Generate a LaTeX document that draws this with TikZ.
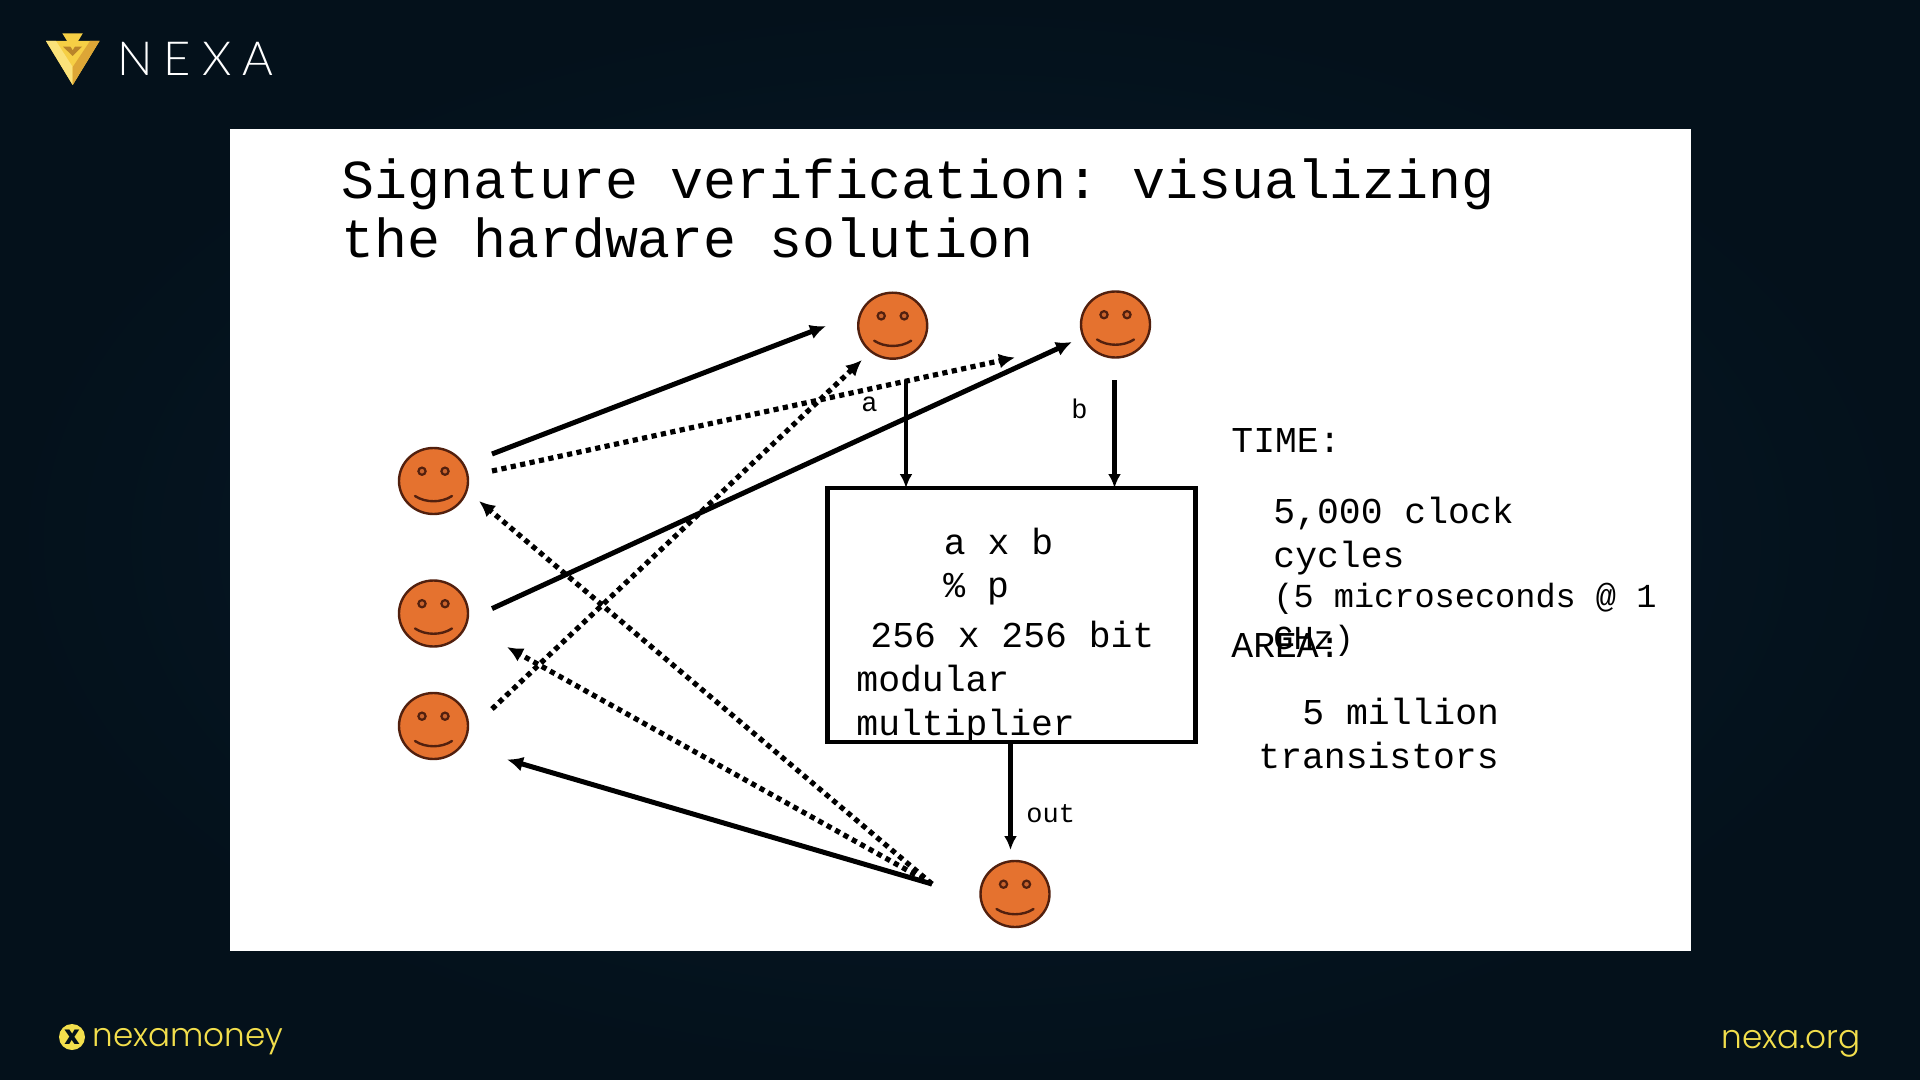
\documentclass[tikz,border=0pt]{standalone}
\usepackage{fontspec}
\usetikzlibrary{arrows.meta,shapes.geometric}
\setmonofont{Liberation Mono}
\newfontfamily\nexafont[LetterSpace=24]{Lato Light}
\newfontfamily\brandfont{Poppins Light}
\newfontfamily\brandbold{Poppins}
\definecolor{bgdark}{HTML}{04111B}
\definecolor{bgmid}{HTML}{071C2C}
\definecolor{faceorange}{HTML}{E5722F}
\definecolor{eyefill}{HTML}{C9642E}
\definecolor{faceline}{HTML}{52200E}
\definecolor{brandyellow}{HTML}{F3DF4C}
\definecolor{goldA}{HTML}{F6CF45}
\definecolor{goldB}{HTML}{DDA636}
\definecolor{goldC}{HTML}{B9842A}
\definecolor{goldD}{HTML}{FBE27A}
\tikzset{
  x=0.5pt,y=-0.5pt,
  solidarrow/.style={line width=2.5pt,-{Latex[length=8pt,width=7.5pt]}},
  dotarrow/.style={line width=2.6pt,dash pattern=on 2.6pt off 2.2pt,-{Latex[length=8pt,width=7.5pt]}},
  thinarrow/.style={line width=2.1pt,-{Latex[length=7pt,width=6.5pt]}},
  facebody/.style={ellipse,draw=faceline,line width=1.2pt,fill=faceorange,minimum width=34.5pt,minimum height=33pt,inner sep=0pt,outer sep=0pt},
  bigtxt/.style={anchor=base west,inner sep=0pt,font=\ttfamily\fontsize{18.2pt}{18.2pt}\selectfont},
  midtxt/.style={anchor=base west,inner sep=0pt,font=\ttfamily\fontsize{16.8pt}{16.8pt}\selectfont},
  smalltxt/.style={anchor=base west,inner sep=0pt,font=\ttfamily\fontsize{13.5pt}{13.5pt}\selectfont},
  titletxt/.style={anchor=base west,inner sep=0pt,font=\ttfamily\fontsize{27.46pt}{27.46pt}\selectfont},
  pics/smiley/.style={code={
    \draw[faceline,line width=1.1pt,fill=eyefill] (-11.5,-9.8) circle (3.6);
    \draw[faceline,line width=1.1pt,fill=eyefill] (11.5,-9.8) circle (3.6);
    \draw[faceline,line width=1.2pt,line cap=round] (-18.5,15) .. controls (-8,22) and (8,22) .. (18.5,15);
  }}
}
\begin{document}
\begin{tikzpicture}
\useasboundingbox (0,0) rectangle (1920,1080);
\fill[bgdark] (0,0) rectangle (1920,1080);
\shade[inner color=bgmid,outer color=bgdark,shading=radial] (0,0) rectangle (1920,1080);
\node[fill=white,minimum width=730.5pt,minimum height=411pt,inner sep=0pt,outer sep=0pt,anchor=north west] (panel) at (230,129) {};

% logo
\fill[goldA] (46,41) -- (99.5,41) -- (72.7,85) -- cycle;
\fill[goldD] (46,41) -- (72.7,85) -- (72.7,67) -- (56,41) -- cycle;
\fill[goldB] (72.7,85) -- (99.5,41) -- (90,41) -- (72.7,67) -- cycle;
\fill[goldC] (63,46.7) -- (82,46.7) -- (72.7,56) -- cycle;
\fill[goldA] (62.3,33.3) -- (82.8,33.3) -- (72.7,50) -- cycle;
\node[anchor=base west,inner sep=0pt,outer sep=0pt,text=white,font=\nexafont\fontsize{23.5pt}{23.5pt}\selectfont] (logotext) at (117,75.5) {NEXA};

% footer
\node[circle,fill=brandyellow,minimum size=13pt,inner sep=0pt,text=bgdark,font=\brandbold\bfseries\fontsize{13pt}{13pt}\selectfont] (xmark) at (72,1037) {x};
\node[anchor=base west,inner sep=0pt,text=brandyellow,font=\brandfont\fontsize{16.3pt}{16.3pt}\selectfont] (brandleft) at (92,1046) {nexamoney};
\node[anchor=base west,inner sep=0pt,text=brandyellow,font=\brandfont\fontsize{16.35pt}{16.35pt}\selectfont] (brandright) at (1721,1048) {nexa.org};

% title
\node[titletxt] (title1) at (341,198.5) {Signature verification: visualizing};
\node[titletxt] (title2) at (341,257.5) {the hardware solution};

% faces
\node[facebody] (f1) at (433.5,481) {}; \pic at (f1) {smiley};
\node[facebody] (f2) at (433.5,613.5) {}; \pic at (f2) {smiley};
\node[facebody] (f3) at (433.5,726) {}; \pic at (f3) {smiley};
\node[facebody] (f4) at (892.7,325.7) {}; \pic at (f4) {smiley};
\node[facebody] (f5) at (1115.5,324.5) {}; \pic at (f5) {smiley};
\node[facebody] (f6) at (1015,894) {}; \pic at (f6) {smiley};

% box
\node[draw=black,line width=2.4pt,outer sep=0pt,minimum width=184pt,minimum height=127pt,inner sep=0pt,anchor=north west] (mult) at (827.7,488) {};
\node[bigtxt] (t1) at (943.5,554) {a x b};
\node[bigtxt] (t2) at (943,597) {\% p};
\node[bigtxt] (t3) at (870,647) {256 x 256 bit};
\node[bigtxt] (t4) at (856,691) {modular};
\node[bigtxt] (t5) at (856,735) {multiplier};

% endpoints
\coordinate (s1) at (492,454); \coordinate (e1) at (826,326);
\coordinate (s2) at (492,471); \coordinate (e2) at (1015,357.5);
\coordinate (s3) at (492,608.6); \coordinate (e3) at (1072,342);
\coordinate (s4) at (492,709); \coordinate (e4) at (862,360);
\coordinate (o) at (932,884);
\coordinate (e5) at (479,501);
\coordinate (e6) at (507,647);
\coordinate (e7) at (507,759.5);
\coordinate (s8) at (906,380); \coordinate (e8) at (906,488);
\coordinate (s9) at (1114.5,380); \coordinate (e9) at (1114.5,488);
\coordinate (s10) at (1010.5,742); \coordinate (e10) at (1010.5,850);

\draw[solidarrow] (s1) -- (e1);
\draw[dotarrow] (s2) -- (e2);
\draw[solidarrow] (s3) -- (e3);
\draw[dotarrow] (s4) -- (e4);
\draw[dotarrow] (o) -- (e5);
\draw[dotarrow] (o) -- (e6);
\draw[solidarrow] (o) -- (e7);
\draw[thinarrow] (s8) -- (e8);
\draw[thinarrow] (s9) -- (e9);
\draw[thinarrow] (s10) -- (e10);

% labels
\node[smalltxt] (la) at (861,411) {a};
\node[smalltxt] (lb) at (1071,418.5) {b};
\node[smalltxt] (lout) at (1026,822) {out};

% right text
\node[bigtxt] (time) at (1231,452) {TIME:};
\node[bigtxt] (c1) at (1273,523) {5,000 clock};
\node[bigtxt] (c2) at (1273,567) {cycles};
\node[midtxt] (c3) at (1273,607) {(5 microseconds @ 1};
\node[midtxt] (c4) at (1273,649) {GHz)};
\node[bigtxt] (area) at (1231,657) {AREA:};
\node[bigtxt] (m1) at (1302,724) {5 million};
\node[bigtxt] (m2) at (1258,768) {transistors};
\end{tikzpicture}
\end{document}
